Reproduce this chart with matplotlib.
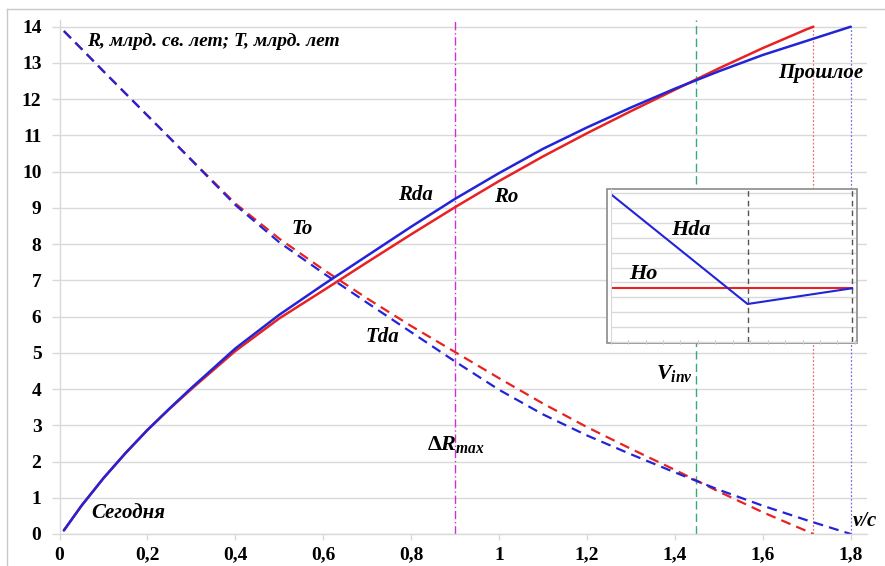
import matplotlib
matplotlib.use("Agg")
import matplotlib.pyplot as plt
from matplotlib.lines import Line2D
from matplotlib.patches import Rectangle
import numpy as np

plt.rcParams['font.family'] = ['Liberation Serif', 'DejaVu Serif']
plt.rcParams['mathtext.fontset'] = 'custom'
plt.rcParams['mathtext.it'] = 'Liberation Serif:bold:italic'
plt.rcParams['mathtext.rm'] = 'Liberation Serif:bold'
plt.rcParams['mathtext.bf'] = 'Liberation Serif:bold'

# ---- data ----
v_da = [0.01, 0.05, 0.1, 0.15, 0.2, 0.25, 0.3, 0.4, 0.5, 0.6, 0.7, 0.8, 0.9, 1.0, 1.1, 1.2, 1.3, 1.4, 1.5, 1.6, 1.7, 1.8]
R_da = [0.1, 0.78, 1.54, 2.23, 2.87, 3.46, 4.03, 5.12, 6.05, 6.88, 7.68, 8.48, 9.25, 9.96, 10.63, 11.22, 11.77, 12.29, 12.77, 13.22, 13.61, 14.0]
T_da = [13.88, 13.39, 12.77, 12.16, 11.55, 10.94, 10.32, 9.08, 8.05, 7.2, 6.38, 5.57, 4.76, 3.98, 3.3, 2.72, 2.2, 1.7, 1.22, 0.78, 0.38, 0.0]

v_o = [0.01, 0.05, 0.1, 0.15, 0.2, 0.25, 0.3, 0.4, 0.5, 0.6, 0.7, 0.8, 0.9, 1.0, 1.1, 1.2, 1.3, 1.4, 1.5, 1.6, 1.7, 1.715]
R_o = [0.1, 0.78, 1.54, 2.23, 2.87, 3.45, 4.0, 5.05, 5.95, 6.72, 7.5, 8.27, 9.02, 9.74, 10.42, 11.06, 11.67, 12.26, 12.85, 13.41, 13.93, 14.0]
T_o = [13.88, 13.39, 12.77, 12.16, 11.55, 10.94, 10.33, 9.12, 8.15, 7.3, 6.5, 5.74, 5.02, 4.3, 3.6, 2.95, 2.35, 1.77, 1.17, 0.6, 0.08, 0.0]

v_dR_max = 0.9
v_inv = 1.448
v_o_end = 1.715
v_da_end = 1.8

x_ticks = [0, 0.2, 0.4, 0.6, 0.8, 1.0, 1.2, 1.4, 1.6, 1.8]
x_tick_labels = ['0', '0,2', '0,4', '0,6', '0,8', '1', '1,2', '1,4', '1,6', '1,8']
y_ticks = list(range(0, 15))

# inset (H) data
inset_x = [0, 1.02, 1.8]
H_da = [9.95, 2.54, 3.6]
H_o = [3.6, 3.6, 3.6]
inset_vlines = [1.02, 1.8]

BLUE = '#2323d8'
RED = '#e82222'
GRID = '#d9d9d9'

W, H = 885, 566
fig = plt.figure(figsize=(W / 100, H / 100), dpi=100)

def fx(px):
    return px / W

def fy(py):
    return 1 - py / H

# outer chart frame (only top and left edges visible)
fig.add_artist(Line2D([fx(6.7), fx(6.7)], [fy(9.3), 0], color='#c8c8c8', lw=1.0))
fig.add_artist(Line2D([fx(6.7), 1], [fy(9.3), fy(9.3)], color='#c8c8c8', lw=1.0))

ax = fig.add_axes([fx(59.5), fy(534), fx(867) - fx(59.5), fy(20) - fy(534)])
ax.set_xlim(0, 1.837)
ax.set_ylim(0, 14.185)

for s in ['top', 'right']:
    ax.spines[s].set_visible(False)
ax.spines['left'].set_color(GRID)
ax.spines['bottom'].set_color(GRID)
ax.spines['left'].set_linewidth(1.0)
ax.spines['bottom'].set_linewidth(1.0)

ax.set_yticks(y_ticks)
ax.set_xticks(x_ticks)
ax.set_xticklabels(x_tick_labels)
ax.yaxis.grid(True, color=GRID, lw=1.0)
ax.set_axisbelow(True)
ax.tick_params(axis='y', length=6, width=1, color=GRID, pad=7, labelsize=14)
ax.tick_params(axis='x', length=4, width=1, color=GRID, pad=5, labelsize=14)
for lab in ax.get_xticklabels() + ax.get_yticklabels():
    lab.set_fontweight('bold')

# vertical reference lines
ax.axvline(v_dR_max, color='#cc33cc', lw=1.0, ls=(0, (6, 2, 1, 2)))
ax.axvline(v_inv, color='#3aa878', lw=1.0, ls=(0, (6, 3)))
ax.plot([v_o_end, v_o_end], [0, 14], color='#f07070', lw=0.9, ls=(0, (1.5, 1.5)))
ax.plot([v_da_end, v_da_end], [0, 14], color='#7070e8', lw=0.9, ls=(0, (1.5, 1.5)))

# curves
ax.plot(v_o, T_o, color=RED, lw=1.6, ls=(0, (4.5, 2.8)))
ax.plot(v_da, T_da, color=BLUE, lw=1.6, ls=(0, (4.5, 2.8)))
ax.plot(v_o, R_o, color=RED, lw=1.8, solid_capstyle='round', solid_joinstyle='round')
ax.plot(v_da, R_da, color=BLUE, lw=1.8, solid_capstyle='round', solid_joinstyle='round')

tkw = dict(fontweight='bold', fontstyle='italic', color='black')
ax.text(0.0626, 13.59, 'R, млрд. св. лет; T, млрд. лет', ha='left', va='center', fontsize=14, **tkw)
ax.text(0.072, 0.58, 'Сегодня', ha='left', va='center', fontsize=15, **tkw)
ax.text(1.828, 12.72, 'Прошлое', ha='right', va='center', fontsize=15, **tkw)
ax.text(0.809, 9.35, 'Rda', ha='center', va='center', fontsize=15, **tkw)
ax.text(1.016, 9.3, 'Ro', ha='center', va='center', fontsize=15, **tkw)
ax.text(0.552, 8.42, 'To', ha='center', va='center', fontsize=15, **tkw)
ax.text(0.734, 5.44, 'Tda', ha='center', va='center', fontsize=15, **tkw)
ax.text(1.40, 4.44, r'$V_{inv}$', ha='center', va='center', fontsize=16, color='black')
ax.text(0.836, 2.46, r'$\mathrm{\Delta}R_{max}$', ha='left', va='center', fontsize=16, color='black')
ax.text(1.832, 0.36, 'v/c', ha='center', va='center', fontsize=15, **tkw)

# inset
fig.add_artist(Rectangle((fx(606.7), fy(343.3)), fx(856.7) - fx(606.7), fy(189.3) - fy(343.3),
                         facecolor='white', edgecolor='#8a8a8a', lw=1.2, zorder=3))
iax = fig.add_axes([fx(610.7), fy(341.7), fx(855.5) - fx(610.7), fy(189.3) - fy(341.7)], zorder=4)
iax.set_facecolor('none')
iax.set_xlim(0, 1.825)
iax.set_ylim(0, 10.27)
for s in ['top', 'right']:
    iax.spines[s].set_visible(False)
iax.spines['left'].set_color(GRID)
iax.spines['bottom'].set_color(GRID)
iax.set_yticks(np.arange(0, 11, 1))
iax.set_xticks(np.arange(0, 1.83, 0.13))
iax.yaxis.grid(True, color=GRID, lw=1.0)
iax.tick_params(axis='both', labelleft=False, labelbottom=False, length=3, color='#bbbbbb', direction='inout')
iax.tick_params(axis='y', length=0)
for xv in inset_vlines:
    iax.axvline(xv, color='#555555', lw=1.0, ls=(0, (4, 3)))
iax.plot(inset_x, H_o, color=RED, lw=1.5)
iax.plot(inset_x, H_da, color=BLUE, lw=1.5)
fig.text(fx(691), fy(230), 'Hda', ha='center', va='center', fontsize=16, zorder=5, **tkw)
fig.text(fx(643), fy(274), 'Ho', ha='center', va='center', fontsize=16, zorder=5, **tkw)

fig.savefig('out.png', dpi=100)
